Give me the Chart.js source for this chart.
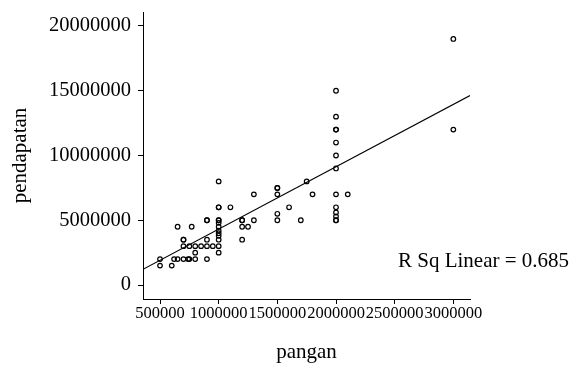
<!DOCTYPE html>
<html lang="id">
<head>
    <meta charset="UTF-8">
    <title>pangan vs pendapatan</title>
    <script src="https://cdn.jsdelivr.net/npm/chart.js"></script>
    <style>
        body { margin: 0; background: #fff; }
        canvas { display: block; }
    </style>
</head>
<body>
    <canvas id="scatterChart" width="581" height="365"></canvas>

    <script>
        // data
        const pangan = [
            500000, 500000, 600000, 620000, 650000, 700000, 740000, 750000, 800000, 900000,
            650000, 770000, 700000, 700000,
            700000, 750000, 800000, 850000, 900000, 950000, 1000000,
            800000, 900000, 900000, 900000,
            1000000, 1000000, 1000000, 1000000, 1000000, 1000000, 1000000, 1000000, 1000000, 1000000, 1000000, 1000000,
            1100000, 1200000, 1200000, 1200000, 1250000, 1200000,
            1300000, 1300000,
            1500000, 1500000, 1500000, 1500000, 1500000,
            1600000, 1700000, 1750000, 1800000,
            2000000, 2000000, 2000000, 2000000, 2000000, 2000000, 2000000, 2000000, 2000000, 2000000, 2000000, 2000000, 2000000,
            2100000, 3000000, 3000000
        ];
        const pendapatan = [
            2000000, 1500000, 1500000, 2000000, 2000000, 2000000, 2000000, 2000000, 2000000, 2000000,
            4500000, 4500000, 3500000, 3500000,
            3000000, 3000000, 3000000, 3000000, 3000000, 3000000, 3000000,
            2500000, 3500000, 5000000, 5000000,
            8000000, 6000000, 6000000, 5000000, 5000000, 4800000, 4500000, 4200000, 4000000, 3800000, 3500000, 2500000,
            6000000, 5000000, 5000000, 4500000, 4500000, 3500000,
            7000000, 5000000,
            7500000, 7500000, 7000000, 5500000, 5000000,
            6000000, 5000000, 8000000, 7000000,
            15000000, 13000000, 12000000, 12000000, 11000000, 10000000, 9000000, 7000000, 6000000, 5600000, 5300000, 5000000, 5000000,
            7000000, 19000000, 12000000
        ];

        // fitted line, read at the left and right edge of the plot
        const fitX = [355000, 3142000];
        const fitY = [1210000, 14630000];

        const xTicks = [500000, 1000000, 1500000, 2000000, 2500000, 3000000];
        const yTicks = [0, 5000000, 10000000, 15000000, 20000000];
        const rSqText = 'R Sq Linear = 0.685';

        const serif = '"Liberation Serif", "Times New Roman", serif';

        const rSqLabel = {
            id: 'rSqLabel',
            afterDraw(chart) {
                const ctx = chart.ctx;
                ctx.save();
                ctx.font = '21px ' + serif;
                ctx.fillStyle = '#000';
                ctx.textBaseline = 'middle';
                ctx.fillText(rSqText, 398, 261);
                ctx.restore();
            }
        };

        const ctx = document.getElementById('scatterChart').getContext('2d');
        new Chart(ctx, {
            type: 'scatter',
            data: {
                datasets: [{
                    data: pangan.map((x, i) => ({ x: x, y: pendapatan[i] })),
                    pointRadius: 2.3,
                    pointBorderWidth: 1.2,
                    pointBorderColor: '#000',
                    pointBackgroundColor: 'rgba(255,255,255,0)'
                }, {
                    type: 'line',
                    data: fitX.map((x, i) => ({ x: x, y: fitY[i] })),
                    borderColor: '#000',
                    borderWidth: 1.2,
                    pointRadius: 0,
                    fill: false
                }]
            },
            options: {
                responsive: false,
                animation: false,
                layout: { padding: { top: 12, right: 111, left: 0, bottom: 0 } },
                plugins: {
                    legend: { display: false },
                    tooltip: { enabled: false }
                },
                scales: {
                    x: {
                        type: 'linear',
                        min: fitX[0],
                        max: fitX[1],
                        afterFit: s => {
                            s.height = 66;
                            s.paddingLeft = 0;
                            s.paddingRight = 0;
                        },
                        afterBuildTicks: s => { s.ticks = xTicks.map(v => ({ value: v })); },
                        border: { color: '#000', width: 1 },
                        grid: { drawOnChartArea: false, color: '#000', tickLength: 5 },
                        ticks: {
                            autoSkip: false,
                            maxRotation: 0,
                            minRotation: 0,
                            padding: 0,
                            color: '#000',
                            font: { family: serif, size: 16.5 },
                            callback: v => String(v)
                        },
                        title: {
                            display: true,
                            text: 'pangan',
                            color: '#000',
                            font: { family: serif, size: 21 },
                            padding: { top: 0, bottom: 0 }
                        }
                    },
                    y: {
                        min: -1080000,
                        max: 21080000,
                        afterFit: s => {
                            s.width = 143;
                            s.paddingTop = 0;
                            s.paddingBottom = 0;
                        },
                        afterBuildTicks: s => { s.ticks = yTicks.map(v => ({ value: v })); },
                        border: { color: '#000', width: 1 },
                        grid: { drawOnChartArea: false, color: '#000', tickLength: 5 },
                        ticks: {
                            padding: 7,
                            color: '#000',
                            font: { family: serif, size: 20.5 },
                            callback: v => String(v)
                        },
                        title: {
                            display: true,
                            text: 'pendapatan',
                            color: '#000',
                            font: { family: serif, size: 21 },
                            padding: { top: 8, bottom: 0 }
                        }
                    }
                }
            },
            plugins: [rSqLabel]
        });
    </script>
</body>
</html>
